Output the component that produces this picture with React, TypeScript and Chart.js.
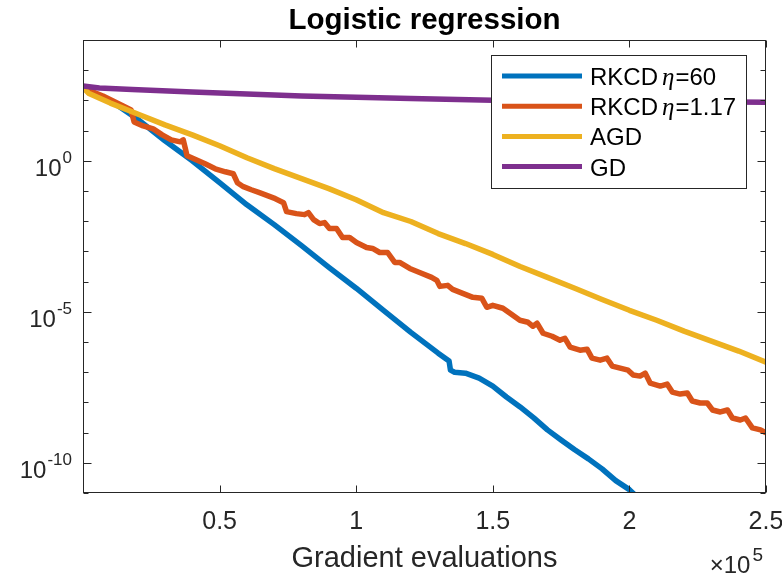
import { useEffect, useRef } from 'react';
import { Chart, registerables } from 'chart.js';

Chart.register(...registerables);

// ---------- data (x: gradient evaluations, y: objective gap) ----------
const seriesNames = ['RKCD η=60', 'RKCD η=1.17', 'AGD', 'GD'];
const seriesColors = ['#0072BD', '#D95319', '#EDB120', '#7E2F8E'];

const xRkcd60 = [0, 10000, 20000, 30000, 40000, 50000, 60000, 70000, 80000, 90000, 100000, 110000, 120000, 130000, 134000, 134500, 136000, 140000, 145000, 150000, 155000, 160000, 165000, 170000, 175000, 180000, 185000, 190000, 195000, 200000, 203000];
const yRkcd60 = [250, 100, 24, 4.6, 1.0, 0.19, 0.035, 0.0077, 0.00155, 2.95e-4, 6.03e-5, 1.12e-5, 2.09e-6, 4.27e-7, 2.34e-7, 1.17e-7, 1.0e-7, 9.3e-8, 6.4e-8, 3.47e-8, 1.51e-8, 7.08e-9, 3.07e-9, 1.23e-9, 5.7e-10, 2.69e-10, 1.35e-10, 6.3e-11, 2.57e-11, 1.29e-11, 7.1e-12];

const xRkcd117 = [0, 3700, 7300, 11000, 14700, 17600, 18700, 22000, 25700, 29000, 32300, 35600, 36700, 38100, 41400, 44700, 48400, 52100, 55000, 56500, 58700, 61600, 64600, 67500, 70400, 73400, 74500, 78100, 81100, 82500, 84400, 86600, 88400, 90200, 92800, 95000, 97600, 100100, 103800, 106000, 108600, 111500, 114100, 115900, 119600, 123200, 127600, 129500, 130600, 133500, 135300, 139000, 142700, 146000, 147800, 150000, 153700, 156300, 159900, 162900, 164700, 166200, 168400, 171700, 174600, 176400, 178300, 181900, 184500, 186300, 189300, 191800, 193700, 196600, 199500, 201400, 203900, 205800, 207600, 211300, 213800, 215700, 218600, 221200, 223000, 225900, 228500, 230400, 233300, 235900, 237700, 240600, 242500, 245000, 248000, 250000];
const yRkcd117 = [250, 189, 140, 95.5, 65.3, 48.2, 19.4, 14.3, 11.4, 7.21, 4.93, 4.24, 4.93, 1.46, 1.08, 0.796, 0.545, 0.433, 0.372, 0.188, 0.139, 0.110, 0.0879, 0.0700, 0.0557, 0.0411, 0.0207, 0.0178, 0.0165, 0.0192, 0.0113, 0.00834, 0.00899, 0.0057, 0.0057, 0.00288, 0.00288, 0.00197, 0.00135, 0.00125, 9.2e-4, 9.2e-4, 4.3e-4, 4.3e-4, 2.73e-4, 2.01e-4, 1.38e-4, 1.1e-4, 6.95e-5, 7.5e-5, 5.53e-5, 4.08e-5, 3.01e-5, 2.79e-5, 1.41e-5, 1.64e-5, 1.31e-5, 8.91e-6, 5.24e-6, 4.5e-6, 3.32e-6, 4.17e-6, 1.95e-6, 1.55e-6, 1.15e-6, 1.33e-6, 6.73e-7, 5.36e-7, 5.78e-7, 2.92e-7, 2.51e-7, 2.92e-7, 1.59e-7, 1.36e-7, 1.17e-7, 8.02e-8, 7.43e-8, 9.33e-8, 4.37e-8, 3.48e-8, 4.05e-8, 2.2e-8, 1.89e-8, 2.04e-8, 1.11e-8, 9.55e-9, 9.55e-9, 5.61e-9, 4.82e-9, 5.61e-9, 3.05e-9, 2.62e-9, 3.05e-9, 1.43e-9, 1.23e-9, 9.77e-10];

const xAgd = [0, 2000, 10000, 20000, 30000, 40000, 50000, 60000, 70000, 80000, 90000, 100000, 110000, 120000, 130000, 140000, 150000, 160000, 170000, 180000, 190000, 200000, 210000, 220000, 230000, 240000, 250000];
const yAgd = [270, 174, 81.3, 35.5, 15.5, 7.24, 3.16, 1.26, 0.55, 0.257, 0.12, 0.0513, 0.0191, 0.00977, 0.00389, 0.00182, 7.94e-4, 3.16e-4, 1.38e-4, 6.03e-5, 2.57e-5, 1.12e-5, 5.25e-6, 2.29e-6, 1.07e-6, 5.01e-7, 2.14e-7];

const xGd = [0, 6000, 18000, 40000, 60000, 80000, 100000, 120000, 150000, 200000, 250000];
const yGd = [300, 257, 229, 191, 162, 141, 126, 115, 102, 93.3, 87.1];

// ---------- axes ----------
const xMin = 0;
const xMax = 250000;
const yMin = 1e-11;
const yMax = 1e4;
const xTickValues = [50000, 100000, 150000, 200000, 250000];
const xTickLabels = ['0.5', '1', '1.5', '2', '2.5'];
const yDecadeExps = [-11, -10, -9, -8, -7, -6, -5, -4, -3, -2, -1, 0, 1, 2, 3, 4];
const yLabelExps = [0, -5, -10];
const titleText = 'Logistic regression';
const xLabelText = 'Gradient evaluations';
const xExponentText = ['×10', '5'];

const SANS = '"Liberation Sans", Arial, Helvetica, sans-serif';
const SERIF = '"Liberation Serif", "Times New Roman", serif';
const AXIS = '#262626';

const decorPlugin = {
  id: 'matlabDecor',
  afterDraw(chart: any) {
    const { ctx, chartArea: a } = chart;
    const xs = chart.scales.x;
    const ys = chart.scales.y;
    ctx.save();
    ctx.strokeStyle = AXIS;
    ctx.lineWidth = 1;
    const line = (x1: number, y1: number, x2: number, y2: number) => {
      ctx.beginPath();
      ctx.moveTo(x1, y1);
      ctx.lineTo(x2, y2);
      ctx.stroke();
    };
    const L = a.left + 0.5, R = a.right - 0.5, T = a.top + 0.5, B = a.bottom - 0.5;
    // box
    ctx.strokeRect(L, T, R - L, B - T);
    // y ticks
    for (const e of yDecadeExps) {
      const py = Math.round(ys.getPixelForValue(Math.pow(10, e))) + 0.5;
      const len = yLabelExps.includes(e) ? 8 : 5;
      line(L, py, L + len, py);
      line(R, py, R - len, py);
    }
    // x ticks
    for (const v of xTickValues) {
      const px = Math.round(xs.getPixelForValue(v)) + 0.5;
      line(px, B, px, B - 7);
      line(px, T, px, T + 7);
    }
    // x tick labels
    ctx.fillStyle = AXIS;
    ctx.textBaseline = 'alphabetic';
    ctx.font = `25px ${SANS}`;
    ctx.textAlign = 'center';
    xTickValues.forEach((v, i) => {
      ctx.fillText(xTickLabels[i], xs.getPixelForValue(v), a.bottom + 36);
    });
    // y tick labels (10^e)
    ctx.textAlign = 'left';
    for (const e of yLabelExps) {
      const py = ys.getPixelForValue(Math.pow(10, e));
      const sup = String(e);
      ctx.font = `17px ${SANS}`;
      const wSup = ctx.measureText(sup).width;
      ctx.font = `24px ${SANS}`;
      const wBase = ctx.measureText('10').width;
      const supX = a.left - 11 - wSup;
      ctx.fillText('10', supX - 1 - wBase, py + 15.5);
      ctx.font = `17px ${SANS}`;
      ctx.fillText(sup, supX, py + 2.5);
    }
    // x label
    ctx.textAlign = 'center';
    ctx.font = `29px ${SANS}`;
    ctx.fillText(xLabelText, (a.left + a.right) / 2, 567);
    // x exponent
    ctx.textAlign = 'left';
    ctx.font = `19px ${SANS}`;
    const wE = ctx.measureText(xExponentText[1]).width;
    ctx.font = `24px ${SANS}`;
    const wX = ctx.measureText(xExponentText[0]).width;
    const eX = a.right - 3 - wE;
    ctx.fillText(xExponentText[0], eX - 2 - wX, 573);
    ctx.font = `19px ${SANS}`;
    ctx.fillText(xExponentText[1], eX, 561);
    // title
    ctx.fillStyle = '#000';
    ctx.textAlign = 'center';
    ctx.font = `bold 29.5px ${SANS}`;
    ctx.fillText(titleText, (a.left + a.right) / 2, 28.5);

    // legend
    const lx = a.right - 275, ly = a.top + 15, lw = 255, lh = 133;
    ctx.fillStyle = '#fff';
    ctx.fillRect(lx, ly, lw, lh);
    ctx.strokeStyle = AXIS;
    ctx.lineWidth = 1;
    ctx.strokeRect(Math.round(lx) + 0.5, Math.round(ly) + 0.5, lw, lh);
    seriesNames.forEach((name, i) => {
      const cy = ly + 21 + i * 30.2;
      ctx.strokeStyle = seriesColors[i];
      ctx.lineWidth = 5;
      line(lx + 11, cy, lx + 91, cy);
      ctx.fillStyle = '#000';
      ctx.textAlign = 'left';
      let tx = lx + 99;
      const base = cy + 9;
      const parts = name.split('η');
      ctx.font = `24px ${SANS}`;
      if (parts.length === 2) {
        const head = parts[0].trimEnd();
        ctx.fillText(head, tx, base);
        tx += ctx.measureText(head).width + 4;
        ctx.font = `italic 25px ${SERIF}`;
        ctx.fillText('η', tx, base);
        tx += ctx.measureText('η').width + 1;
        ctx.font = `24px ${SANS}`;
        ctx.fillText(parts[1], tx, base);
      } else {
        ctx.fillText(name, tx, base);
      }
    });
    ctx.restore();
  },
};

export default function App() {
  const ref = useRef<HTMLCanvasElement>(null);
  useEffect(() => {
    const xsArr = [xRkcd60, xRkcd117, xAgd, xGd];
    const ysArr = [yRkcd60, yRkcd117, yAgd, yGd];
    const chart = new Chart(ref.current as HTMLCanvasElement, {
      type: 'line',
      data: {
        datasets: seriesNames.map((name, i) => ({
          label: name,
          data: xsArr[i].map((x, j) => ({ x, y: ysArr[i][j] })),
          borderColor: seriesColors[i],
          backgroundColor: seriesColors[i],
          borderWidth: 5.5,
          pointRadius: 0,
          tension: 0,
          fill: false,
          borderJoinStyle: 'round' as const,
          clip: 0,
          order: 4 - i,
        })),
      },
      options: {
        responsive: false,
        devicePixelRatio: 1,
        animation: false,
        events: [],
        layout: { padding: { left: 83, right: 16, top: 40, bottom: 88 } },
        plugins: {
          legend: { display: false },
          title: { display: false },
          tooltip: { enabled: false },
        },
        scales: {
          x: { type: 'linear', min: xMin, max: xMax, display: false },
          y: { type: 'logarithmic', min: yMin, max: yMax, display: false },
        },
      },
      plugins: [decorPlugin],
    });
    return () => chart.destroy();
  }, []);
  return (
    <div style={{ position: 'fixed', left: 0, top: 0, width: 782, height: 581, background: '#fff' }}>
      <canvas ref={ref} width={782} height={581} style={{ display: 'block', width: 782, height: 581 }} />
    </div>
  );
}
